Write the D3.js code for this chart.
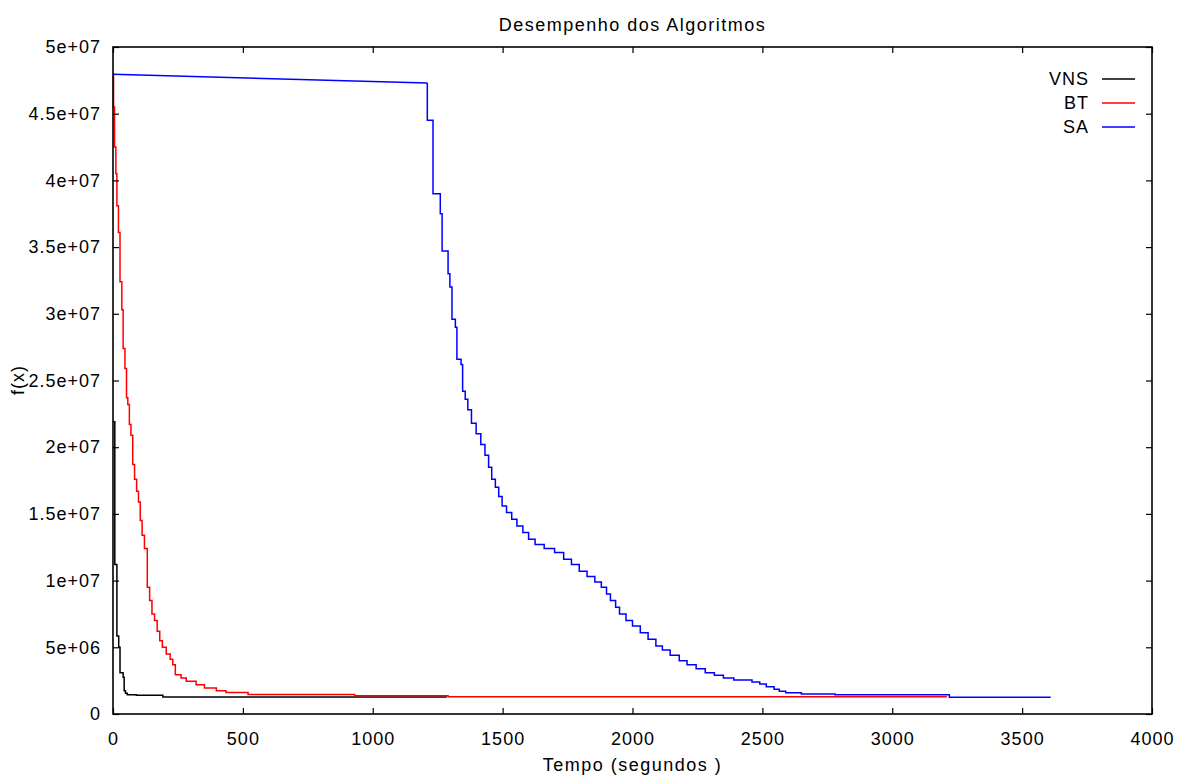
<!DOCTYPE html>
<html>
<head>
<meta charset="utf-8">
<script src="https://cdn.jsdelivr.net/npm/d3@7"></script>
<style>
  body { margin: 0; background: #fff; }
  text { font-family: "Liberation Sans", Arial, sans-serif; fill: #000; }
  .tick text { font-size: 18px; letter-spacing: 1px; }
  .series { fill: none; stroke-width: 1.5px; }
</style>
</head>
<body>
<div id="chart"></div>
<script>
var width = 1185, height = 776;
var margin = {left: 113, right: 33, top: 47, bottom: 62};

// tempo (s) e f(x) em milhoes
var vnsT = [0, 7, 15, 22, 27, 39, 43, 48, 55, 90, 192, 1285];
var vnsF = [21.9, 11.2, 5.85, 5.0, 3.1, 2.75, 1.75, 1.55, 1.45, 1.4, 1.27, 1.27];

var btT = [0, 2, 6, 11, 15, 21, 27, 34, 39, 46, 52, 57, 63, 69, 76, 83, 91, 98, 105, 112, 121, 132, 141, 150, 160, 170, 180, 190, 205, 220, 230, 240, 262, 282, 320, 352, 398, 435, 520, 930, 1290, 3210];
var btF = [48.0, 45.5, 42.5, 40.5, 38.1, 36.1, 32.4, 30.3, 27.4, 25.9, 23.7, 23.2, 21.7, 20.9, 18.7, 17.6, 16.7, 15.9, 14.5, 13.4, 12.4, 9.5, 8.5, 7.5, 7.0, 6.2, 5.5, 5.0, 4.5, 4.1, 3.7, 2.95, 2.7, 2.45, 2.2, 1.95, 1.75, 1.62, 1.47, 1.36, 1.3, 1.3];

var saT = [0, 1210, 1210, 1232, 1260, 1267, 1290, 1297, 1305, 1318, 1324, 1340, 1346, 1356, 1366, 1380, 1398, 1416, 1432, 1446, 1458, 1472, 1485, 1498, 1515, 1535, 1555, 1578, 1600, 1625, 1660, 1700, 1735, 1765, 1795, 1825, 1855, 1880, 1900, 1915, 1935, 1950, 1975, 2000, 2030, 2060, 2090, 2115, 2145, 2180, 2210, 2245, 2280, 2315, 2350, 2390, 2460, 2490, 2515, 2545, 2565, 2590, 2650, 2780, 3220, 3610];
var saF = [47.95, 47.3, 44.5, 39.0, 37.5, 34.7, 33.0, 32.0, 29.6, 29.0, 26.6, 26.2, 24.2, 23.6, 22.8, 21.8, 21.0, 20.2, 19.4, 18.5, 17.6, 17.0, 16.3, 15.6, 15.1, 14.6, 14.1, 13.6, 13.1, 12.7, 12.4, 12.1, 11.6, 11.2, 10.7, 10.3, 9.9, 9.5, 9.0, 8.5, 8.0, 7.5, 7.0, 6.6, 6.1, 5.6, 5.1, 4.8, 4.4, 4.0, 3.7, 3.4, 3.1, 2.9, 2.7, 2.55, 2.4, 2.25, 2.05, 1.85, 1.7, 1.6, 1.5, 1.45, 1.25, 1.25];

var xTicks = [0, 500, 1000, 1500, 2000, 2500, 3000, 3500, 4000];
var yTicks = [0, 5, 10, 15, 20, 25, 30, 35, 40, 45, 50];
var yTickLabels = ["0", "5e+06", "1e+07", "1.5e+07", "2e+07", "2.5e+07", "3e+07", "3.5e+07", "4e+07", "4.5e+07", "5e+07"];

var seriesNames = ["VNS", "BT", "SA"];
var seriesColors = ["#000000", "#ff0000", "#0000ff"];

function zip(t, f) {
  return t.map(function(d, i) { return {t: d, f: f[i]}; });
}

function drawGraphic() {
  var svg = d3.select("#chart").append("svg")
    .attr("width", width)
    .attr("height", height);

  var x = d3.scaleLinear().domain([0, 4000]).range([margin.left, width - margin.right]);
  var y = d3.scaleLinear().domain([0, 50]).range([height - margin.bottom, margin.top]);

  var stepLine = d3.line()
    .x(function(d) { return x(d.t); })
    .y(function(d) { return y(d.f); })
    .curve(d3.curveStepAfter);
  var straightLine = d3.line()
    .x(function(d) { return x(d.t); })
    .y(function(d) { return y(d.f); });

  var vns = zip(vnsT, vnsF), bt = zip(btT, btF), sa = zip(saT, saF);

  svg.append("path").attr("class", "series")
    .attr("stroke", seriesColors[0]).attr("d", stepLine(vns));
  svg.append("path").attr("class", "series")
    .attr("stroke", seriesColors[1]).attr("d", stepLine(bt));
  // SA: primeiro trecho ligado em linha reta, o resto em degraus
  svg.append("path").attr("class", "series")
    .attr("stroke", seriesColors[2]).attr("d", straightLine(sa.slice(0, 2)));
  svg.append("path").attr("class", "series")
    .attr("stroke", seriesColors[2]).attr("d", stepLine(sa.slice(1)));

  // eixos com marcas para dentro
  var gx = svg.append("g")
    .attr("transform", "translate(0," + (height - margin.bottom) + ")")
    .call(d3.axisBottom(x).tickValues(xTicks).tickFormat(d3.format("d"))
      .tickSizeInner(-6).tickSizeOuter(0).tickPadding(18));
  var gy = svg.append("g")
    .attr("transform", "translate(" + margin.left + ",0)")
    .call(d3.axisLeft(y).tickValues(yTicks)
      .tickFormat(function(d, i) { return yTickLabels[i]; })
      .tickSizeInner(-6).tickSizeOuter(0).tickPadding(12));
  var gx2 = svg.append("g")
    .attr("transform", "translate(0," + margin.top + ")")
    .call(d3.axisTop(x).tickValues(xTicks).tickFormat("").tickSizeInner(-6).tickSizeOuter(0));
  var gy2 = svg.append("g")
    .attr("transform", "translate(" + (width - margin.right) + ",0)")
    .call(d3.axisRight(y).tickValues(yTicks).tickFormat("").tickSizeInner(-6).tickSizeOuter(0));

  [gx, gy, gx2, gy2].forEach(function(g) {
    g.select(".domain").remove();
    g.selectAll(".tick line").attr("stroke", "#000").attr("stroke-width", 1.2);
    g.selectAll(".tick text").attr("font-family", null).attr("font-size", null).style("fill", "#000");
  });

  svg.append("rect")
    .attr("x", margin.left)
    .attr("y", margin.top)
    .attr("width", width - margin.left - margin.right)
    .attr("height", height - margin.top - margin.bottom)
    .attr("fill", "none")
    .attr("stroke", "#000")
    .attr("stroke-width", 1.6);

  svg.append("text")
    .attr("x", (margin.left + width - margin.right) / 2)
    .attr("y", 31)
    .attr("text-anchor", "middle")
    .style("font-size", "18px")
    .style("letter-spacing", "1.5px")
    .text("Desempenho dos Algoritmos");

  svg.append("text")
    .attr("x", (margin.left + width - margin.right) / 2)
    .attr("y", 771)
    .attr("text-anchor", "middle")
    .style("font-size", "18px")
    .style("letter-spacing", "1.5px")
    .text("Tempo (segundos )");

  svg.append("text")
    .attr("transform", "translate(24,380) rotate(-90)")
    .attr("text-anchor", "middle")
    .style("font-size", "18px")
    .style("letter-spacing", "1px")
    .text("f(x)");

  var legend = svg.append("g")
    .attr("transform", "translate(1089,79)");
  seriesNames.forEach(function(name, i) {
    var row = legend.append("g").attr("transform", "translate(0," + (i * 24) + ")");
    row.append("text")
      .attr("x", 0)
      .attr("dy", "0.36em")
      .attr("text-anchor", "end")
      .style("font-size", "18px")
      .style("letter-spacing", "1px")
      .text(name);
    row.append("line")
      .attr("x1", 13).attr("x2", 46)
      .attr("y1", 0).attr("y2", 0)
      .attr("stroke", seriesColors[i])
      .attr("stroke-width", 1.5);
  });
}
drawGraphic()
</script>
</body>
</html>
